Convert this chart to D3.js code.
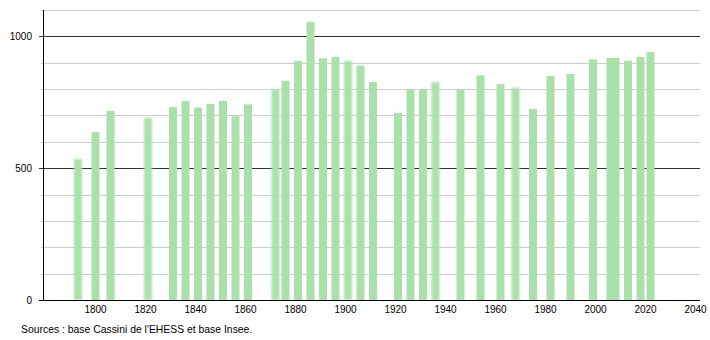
<!DOCTYPE html>
<html>
<head>
<meta charset="utf-8">
<script src="https://d3js.org/d3.v7.min.js"></script>
<style>
  body { margin: 0; background: #fff; }
  text { font-family: "Liberation Sans", Arial, sans-serif; }
</style>
</head>
<body>
<svg width="710" height="340"></svg>
<script>

// census years and population
var years = [1793, 1800, 1806, 1821, 1831, 1836, 1841, 1846, 1851, 1856, 1861,
  1872, 1876, 1881, 1886, 1891, 1896, 1901, 1906, 1911, 1921, 1926, 1931, 1936,
  1946, 1954, 1962, 1968, 1975, 1982, 1990, 1999, 2006, 2007, 2008, 2013, 2018, 2022];
var population = [535, 637, 717, 690, 732, 755, 730, 744, 755, 697, 742,
  799, 832, 907, 1055, 917, 922, 907, 889, 827, 709, 797, 800, 827,
  800, 852, 819, 805, 725, 850, 857, 913, 918, 918, 918, 907, 922, 941];

// bars that look smudged in the original picture
var softYears = [1793, 1821, 1872, 1901, 1936, 1968];

var xTicks = [1800, 1820, 1840, 1860, 1880, 1900, 1920, 1940, 1960, 1980, 2000, 2020, 2040];
var yMajor = [0, 500, 1000];
var yMinor = [100, 200, 300, 400, 600, 700, 800, 900, 1100];

var svg = d3.select('svg');

var x = d3.scaleLinear().domain([1779, 2041.8]).range([43, 700]);
var y = d3.scaleLinear().domain([0, 1100]).range([300, 10]);

var defs = svg.append('defs');
defs.append('filter')
  .attr('id', 'soft')
  .attr('x', '-50%').attr('width', '200%')
  .attr('y', '-5%').attr('height', '110%')
  .append('feGaussianBlur')
  .attr('stdDeviation', '1.1 0.8');

// light grid lines
svg.append('g')
  .selectAll('line')
  .data(yMinor)
  .enter().append('line')
  .attr('x1', 41)
  .attr('x2', 700)
  .attr('y1', function(d) { return Math.round(y(d)) + 0.5; })
  .attr('y2', function(d) { return Math.round(y(d)) + 0.5; })
  .style('stroke', '#cccccc')
  .style('stroke-width', 1);

// dark grid lines
svg.append('g')
  .selectAll('line')
  .data(yMajor.slice(1))
  .enter().append('line')
  .attr('x1', 39)
  .attr('x2', 700)
  .attr('y1', function(d) { return Math.round(y(d)) + 0.5; })
  .attr('y2', function(d) { return Math.round(y(d)) + 0.5; })
  .style('stroke', '#333333')
  .style('stroke-width', 1);

// bars
var data = years.map(function(yr, i) { return {year: yr, pop: population[i]}; });

svg.append('g')
  .selectAll('rect')
  .data(data)
  .enter().append('rect')
  .attr('x', function(d) { return x(d.year - 1.6); })
  .attr('width', function(d) { return x(d.year + 1.6) - x(d.year - 1.6); })
  .attr('y', function(d) { return y(d.pop); })
  .attr('height', function(d) { return y(0) - y(d.pop); })
  .attr('fill', '#aae0aa')
  .attr('filter', function(d) { return softYears.indexOf(d.year) >= 0 ? 'url(#soft)' : null; });

// axes
svg.append('line')
  .attr('x1', 43.5).attr('x2', 43.5)
  .attr('y1', 10).attr('y2', 300.5)
  .style('stroke', '#000');
svg.append('line')
  .attr('x1', 39).attr('x2', 700)
  .attr('y1', 300.5).attr('y2', 300.5)
  .style('stroke', '#000');

// y labels
svg.append('g')
  .selectAll('text')
  .data(yMajor)
  .enter().append('text')
  .attr('x', 32)
  .attr('y', function(d) { return y(d) + 4; })
  .attr('text-anchor', 'end')
  .style('font-size', '10px')
  .style('fill', '#000')
  .text(function(d) { return d; });

// x labels
svg.append('g')
  .selectAll('text')
  .data(xTicks)
  .enter().append('text')
  .attr('x', function(d) { return x(d); })
  .attr('y', 313)
  .attr('text-anchor', 'middle')
  .style('font-size', '10px')
  .style('fill', '#000')
  .text(function(d) { return d; });

svg.append('text')
  .attr('x', 21)
  .attr('y', 333)
  .style('font-size', '10.4px')
  .style('fill', '#000')
  .text("Sources : base Cassini de l'EHESS et base Insee.");

</script>
</body>
</html>
